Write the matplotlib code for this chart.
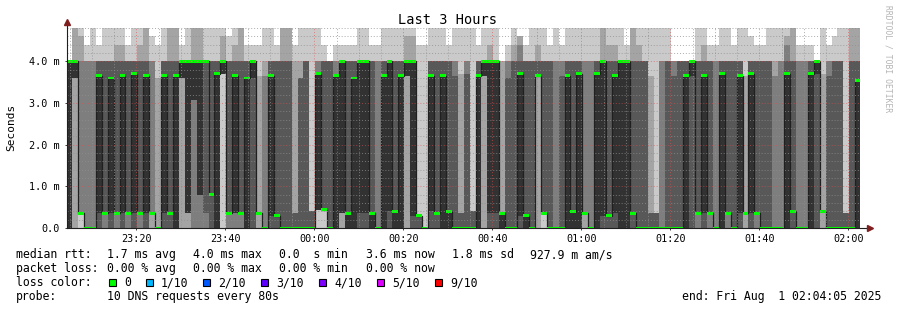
import matplotlib
matplotlib.use("Agg")
import matplotlib.pyplot as plt
from matplotlib.patches import Rectangle
import numpy as np

# time axis: minutes after 23:00, one rrd step = 80 s
FIRST_BIN_MIN = 4.23
STEP_MIN = 80 / 60
X_RANGE = (4.43, 182.62)
Y_MAX = 4.8

tick_minutes = [20, 40, 60, 80, 100, 120, 140, 160, 180]
tick_labels = ["23:20", "23:40", "00:00", "00:20", "00:40", "01:00", "01:20", "01:40", "02:00"]
y_ticks = [0, 1, 2, 3, 4]
y_tick_labels = ["0.0", "1.0 m", "2.0 m", "3.0 m", "4.0 m"]

# 10 DNS round trip times (ms) per 80 s step, sorted
pings = [
    [0, 0, 0, 0, 0, 4, 4, 4, 4, 4],
    [0, 0, 3.6, 3.6, 3.6, 4, 4, 4, 4.8, 4.8],
    [0, .35, .35, .35, .35, .35, .35, 4, 4.6, 4.8],
    [0, 0, 0, 0, 0, 0, 0, 4, 4, 4.4],
    [0, 0, 0, 0, 0, 0, 0, 4, 4, 4.8],
    [0, 0, 0, 0, .35, 3.65, 4, 4, 4, 4.4],
    [0, 0, 0, .35, .35, .35, 4, 4, 4, 4.8],
    [0, 0, 0, 0, .35, 3.6, 4, 4, 4, 4.8],
    [0, 0, 0, .35, .35, .35, 4, 4, 4.4, 4.8],
    [0, 0, 0, 0, .35, 3.65, 4, 4, 4.4, 4.8],
    [0, 0, 0, .35, .35, .35, 4, 4, 4, 4.4],
    [0, 0, 0, 0, .35, 3.7, 4, 4, 4, 4.8],
    [0, 0, 0, .35, .35, .35, 4, 4, 4.4, 4.8],
    [0, 0, 0, 0, .35, 3.65, 4, 4, 4.8, 4.8],
    [0, 0, .35, .35, .35, .35, .35, 4, 4, 4.6],
    [0, 0, 0, 0, 0, 0, 0, 0, 3.6, 4.4],
    [0, 0, 0, 0, .35, 3.65, 4, 4, 4, 4.8],
    [0, 0, 0, 0, .35, .35, 4, 4, 4.8, 4.8],
    [0, 0, 0, 0, 0, 3.65, 4, 4, 4.8, 4.8],
    [0, 0, 3.6, 3.6, 3.6, 4, 4, 4, 4, 4.4],
    [0, 0, .35, .35, .35, 4, 4, 4, 4, 4.8],
    [0, 0, 0, 3.06, 3.06, 4, 4, 4, 4.8, 4.8],
    [0, 0, 0, .8, .8, 4, 4, 4, 4.8, 4.8],
    [0, 0, 0, .35, 4, 4, 4, 4, 4, 4.8],
    [0, 0, 0, 0, .8, .8, 4, 4, 4, 4.8],
    [0, 0, 0, 0, 0, 3.7, 4, 4, 4, 4.8],
    [0, 3.7, 3.7, 3.7, 3.7, 4, 4, 4, 4.6, 4.8],
    [0, 0, 0, .35, .35, .35, 4, 4, 4, 4.6],
    [0, 0, 0, .35, .35, 3.65, 4, 4, 4.4, 4.8],
    [0, 0, 0, .35, .35, .35, 4, 4, 4.8, 4.8],
    [0, 0, 0, 0, 0, 3.6, 4, 4, 4, 4.4],
    [0, 0, 0, 0, 3.6, 4, 4, 4, 4, 4.4],
    [0, 0, .35, .35, .35, .35, .35, .35, 3.65, 4.4],
    [0, 0, 0, 0, 0, 0, 0, 3.65, 4, 4.8],
    [0, 0, 0, 0, .3, 3.65, 4, 4, 4, 4.8],
    [0, 0, 0, 0, .3, .3, 4, 4, 4, 4.4],
    [0, 0, 0, 0, 0, 0, 4, 4, 4.8, 4.8],
    [0, 0, 0, 0, 0, 0, 4, 4, 4.8, 4.8],
    [0, 0, 0, 0, 0, 0, .35, .35, 4, 4.4],
    [0, 0, 0, 0, 0, 0, 3.6, 3.6, 4, 4.8],
    [0, 0, 0, 0, 0, 0, 4, 4, 4, 4.8],
    [0, 0, 0, 0, 0, 0, .4, .4, .4, 4.8],
    [0, .44, .44, .44, .44, 3.7, 3.7, 4, 4, 4.8],
    [0, .44, .44, .44, .44, .44, 4, 4, 4, 4.4],
    [0, 0, 0, 0, 0, 0, 4, 4, 4, 4],
    [0, 0, 0, 0, 0, 3.65, 3.65, 4, 4, 4.4],
    [0, 0, .35, .35, .35, 4, 4, 4, 4, 4.4],
    [0, 0, 0, 0, 0, .35, 4, 4, 4, 4.4],
    [0, 0, 0, 0, 0, 3.6, 4, 4, 4, 4.4],
    [0, 0, 0, 0, .35, 4, 4, 4, 4, 4.8],
    [0, 0, 0, 0, .35, 4, 4, 4, 4, 4.8],
    [0, 0, 0, 0, 0, .35, 4, 4, 4, 4.4],
    [0, 0, 0, 0, 0, 0, 0, 4, 4, 4.4],
    [0, 0, 0, 0, 0, 3.65, 4, 4, 4, 4.8],
    [0, 0, 0, 0, .4, 4, 4, 4, 4, 4.8],
    [0, 0, 0, 0, 0, .4, 4, 4, 4, 4.8],
    [0, 0, 0, 0, 0, 3.65, 4, 4, 4, 4.8],
    [0, 0, 3.65, 3.65, 3.65, 4, 4, 4, 4.6, 4.8],
    [0, 0, 0, 0, .3, 4, 4, 4, 4.6, 4.8],
    [0, 0, 0, 0, .3, .3, .3, .3, .3, 4.4],
    [0, 0, 0, 0, 0, 0, 0, 0, 0, 4.4],
    [0, 0, 0, 0, .4, 3.65, 4, 4, 4, 4.8],
    [0, 0, 0, 0, .35, .35, 4, 4, 4, 4.8],
    [0, 0, 0, 0, 0, 3.65, 4, 4, 4, 4.8],
    [0, 0, 0, 0, 0, .4, 4, 4, 4, 4.4],
    [0, 0, 0, 0, 0, 0, 3.65, 4, 4, 4.8],
    [0, 0, 0, 0, 0, 0, .35, .35, 3.7, 4.8],
    [0, 0, 0, 0, 0, 0, 3.7, 4, 4, 4.8],
    [0, 0, 0, 0, 0, 0, .4, .4, .4, 4.8],
    [0, 0, 0, 0, 0, 3.65, 4, 4, 4, 4.4],
    [0, 0, 3.65, 3.65, 3.65, 4, 4, 4, 4, 4.8],
    [0, 0, 0, 0, .35, 4, 4, 4, 4.4, 4.8],
    [0, 0, 0, 0, .35, 4, 4, 4, 4, 4.8],
    [0, 0, 0, 0, 0, .35, .35, .35, 4, 4],
    [0, 0, 0, 0, 0, 0, 3.6, 4, 4, 4.4],
    [0, 0, 0, 0, 0, 0, 4, 4, 4.4, 4.8],
    [0, 0, 0, 0, .3, 3.7, 4, 4.4, 4.6, 4.6],
    [0, 0, 0, 0, 0, .3, 4, 4, 4, 4.4],
    [0, 0, 0, 0, 0, 0, 4, 4, 4, 4.8],
    [0, 0, 3.65, 3.65, 3.65, 3.65, 4, 4, 4.4, 4.8],
    [0, .35, .35, .35, .35, .35, 4, 4, 4, 4.8],
    [0, 0, 0, 0, 0, 0, 4, 4, 4, 4.4],
    [0, 0, 0, 0, 0, 0, 0, 4, 4, 4.8],
    [0, 0, 0, 0, 0, 0, 3.65, 4, 4, 4.4],
    [0, 0, 0, 0, 0, 3.65, 4, 4, 4, 4.8],
    [0, 0, 0, 0, 0, .4, 4, 4, 4, 4.8],
    [0, 0, 0, 0, 0, 3.7, 4, 4, 4, 4.8],
    [0, 0, .35, .35, .35, .35, .35, 4, 4, 4.8],
    [0, 0, 0, 0, 0, 0, 0, 4, 4, 4.8],
    [0, 0, 0, 0, 0, 3.7, 4, 4, 4, 4.8],
    [0, 0, 0, 0, .3, 4, 4, 4, 4.8, 4.8],
    [0, 0, 0, 0, .3, .3, 4, 4, 4.4, 4.8],
    [0, 0, 0, 0, .35, 3.65, 4, 4, 4.4, 4.8],
    [0, 0, 0, 0, 0, 4, 4, 4, 4, 4.8],
    [0, 0, 0, 0, 0, 4, 4, 4, 4, 4.4],
    [0, 0, 0, 0, .35, .35, 4, 4, 4.8, 4.8],
    [0, 0, 0, 0, 0, 0, 4, 4, 4.4, 4.8],
    [0, 0, 0, 0, 0, 0, 4, 4, 4, 4.8],
    [0, 0, 0, 0, 0, 0, .35, .35, 3.65, 4.8],
    [0, 0, 0, 0, 0, 0, .35, .35, .35, 4.8],
    [0, 0, 0, 0, 0, 0, 0, 4, 4, 4.8],
    [0, 0, 0, 0, 0, 0, 4, 4, 4, 4.8],
    [0, 0, 0, 0, 0, 0, 3.65, 4, 4, 4],
    [0, 0, 0, 0, 0, 0, 4, 4, 4, 4],
    [0, 0, 0, 0, 0, 3.65, 4, 4, 4, 4],
    [0, 0, 0, 0, 3.65, 4, 4, 4, 4, 4],
    [0, 0, 0, .35, .35, .35, 4, 4, 4, 4.8],
    [0, 0, 0, 0, .35, 3.65, 4, 4, 4.4, 4.8],
    [0, 0, 0, .35, .35, .35, 4, 4, 4, 4.4],
    [0, 0, 0, 0, 0, 0, 0, 4, 4, 4.4],
    [0, 0, 0, 0, 0, 3.7, 4, 4, 4, 4.8],
    [0, 0, 0, .35, .35, .35, 4, 4, 4, 4.8],
    [0, 0, 0, 0, 0, 0, 4, 4, 4, 4.4],
    [0, 0, 0, 0, .35, 3.65, 4, 4, 4, 4.8],
    [0, 0, .35, .35, .35, .35, .35, .35, 3.65, 4.8],
    [0, 0, 0, 0, .35, 3.7, 4, 4, 4, 4.6],
    [0, 0, 0, .35, .35, .35, 4, 4, 4, 4.4],
    [0, 0, 0, 0, 0, 0, 4, 4, 4, 4.4],
    [0, 0, 0, 0, 0, 0, 4, 4, 4, 4.8],
    [0, 0, 0, 0, 0, 0, 0, 3.65, 4, 4.8],
    [0, 0, 0, 0, 0, 0, 0, 4, 4, 4.8],
    [0, 0, 0, 0, 0, 3.7, 4, 4.4, 4.6, 4.8],
    [0, 0, 0, 0, .4, .4, 4, 4, 4.8, 4.8],
    [0, 0, 0, 0, 0, 0, 0, 4, 4, 4.4],
    [0, 0, 0, 0, 0, 0, 0, 4, 4, 4.4],
    [0, 0, 0, 0, 0, 3.7, 4, 4, 4, 4.4],
    [0, 0, 0, 0, 3.7, 4, 4, 4, 4, 4],
    [0, 0, .4, .4, .4, .4, .4, .4, 3.7, 4.8],
    [0, 0, 0, 0, 0, 0, 3.65, 4, 4, 4.4],
    [0, 0, 0, 0, 0, 0, 4, 4, 4, 4.6],
    [0, 0, 0, 0, 0, 0, 4, 4, 4, 4.8],
    [0, 0, 0, 0, 0, 0, .35, .35, .35, 4.8],
    [0, 0, 0, 0, 0, 0, 4, 4, 4.8, 4.8],
    [0, 0, 0, 0, 0, 3.55, 4, 4, 4.8, 4.8],
]

smoke_colors = ["#cacaca", "#a4a4a4", "#7e7e7e", "#585858", "#323232"]

legend_rows = [
    ("median rtt:", ["1.7 ms avg", "4.0 ms max", "0.0  s min", "3.6 ms now", "1.8 ms sd"], "927.9 m am/s"),
    ("packet loss:", ["0.00 % avg", "0.00 % max", "0.00 % min", "0.00 % now"], None),
]
loss_labels = ["0", "1/10", "2/10", "3/10", "4/10", "5/10", "9/10"]
loss_colors = ["#00ff00", "#00b8ff", "#0059ff", "#5e00ff", "#7e00ff", "#dd00ff", "#ff0000"]
probe_text = "10 DNS requests every 80s"
end_text = "end: Fri Aug  1 02:04:05 2025"

MONO = "DejaVu Sans Mono"
W, H = 897, 310

fig = plt.figure(figsize=(W / 100, H / 100), dpi=100)
fig.patch.set_facecolor("white")
ax = fig.add_axes([67 / W, 1 - 228 / H, 793 / W, 200 / H])
ax.set_facecolor("white")

p = np.sort(np.array(pings, dtype=float), axis=1)
edges = FIRST_BIN_MIN + STEP_MIN * np.arange(len(p) + 1)

# smoke: outer pair lightest, inner pair darkest
for i, col in enumerate(smoke_colors):
    ax.stairs(p[:, 9 - i], edges, baseline=p[:, i], fill=True, color=col, lw=0, zorder=1)

median = p[:, 5]
ax.stairs(median, edges, baseline=None, color="#202020", lw=0.9, zorder=2)
ax.bar(edges[:-1], 0.07, bottom=median - 0.035, width=STEP_MIN, align="edge",
       color="#00ff00", lw=0, zorder=3)

ax.set_xlim(*X_RANGE)
ax.set_ylim(0, Y_MAX)

# rrdtool style grid
grid_col = (0.56, 0.56, 0.56, 0.75)
mgrid_col = (0.87, 0.31, 0.31, 0.6)
dots = (0, (1, 2))
for y in np.arange(0.2, Y_MAX + 0.01, 0.2):
    is_major = abs(y - round(y)) < 1e-6
    ax.axhline(y, color=mgrid_col if is_major else grid_col, lw=0.7, ls=dots, zorder=4)
for m in range(5, 185, 5):
    is_major = m % 20 == 0
    ax.axvline(m, color=mgrid_col if is_major else grid_col, lw=0.7, ls=dots, zorder=4)

for s in ax.spines.values():
    s.set_visible(False)
axis_col = (0.12, 0.12, 0.12)
arrow_col = (0.5, 0.12, 0.12)
ax.plot([0, 0], [0, 1.03], transform=ax.transAxes, color=axis_col, lw=0.8, clip_on=False, zorder=5)
ax.plot([0, 1.013], [0, 0], transform=ax.transAxes, color=axis_col, lw=0.8, clip_on=False, zorder=5)
ax.plot(0, 1.028, marker="^", ms=4, color=arrow_col, transform=ax.transAxes, clip_on=False, zorder=6)
ax.plot(1.013, 0, marker=">", ms=4, color=arrow_col, transform=ax.transAxes, clip_on=False, zorder=6)

ax.set_xticks(tick_minutes, tick_labels)
ax.set_yticks(y_ticks, y_tick_labels)
ax.tick_params(axis="both", length=1.5, width=0.6, color=axis_col, labelsize=7.3)
ax.tick_params(axis="y", pad=3.5)
ax.tick_params(axis="x", pad=2.5)
for lab in ax.get_xticklabels() + ax.get_yticklabels():
    lab.set_family(MONO)

# text layer in pixel coordinates
tx = fig.add_axes([0, 0, 1, 1])
tx.set_xlim(0, W)
tx.set_ylim(H, 0)
tx.axis("off")
tx.patch.set_alpha(0)

tx.text(448, 24, "Last 3 Hours", family=MONO, fontsize=9.8, ha="center", va="baseline")
tx.text(11, 127, "Seconds", family=MONO, fontsize=8.0, rotation=90, ha="center", va="center")
tx.text(888, 5, "RRDTOOL / TOBI OETIKER", family=MONO, fontsize=5.8, rotation=270,
        ha="center", va="top", color="#b4b4b4")

fs = 8.3
item_x = [107.3, 193.3, 279.3, 365.7, 451.7]
base_y = [258, 272, 286, 300]
for row, (head, items, extra) in enumerate(legend_rows):
    tx.text(16, base_y[row], head, family=MONO, fontsize=fs, va="baseline")
    for x, s in zip(item_x, items):
        tx.text(x, base_y[row], s, family=MONO, fontsize=fs, va="baseline")
    if extra:
        tx.text(530, base_y[row], extra, family=MONO, fontsize=fs, va="baseline")

tx.text(16, base_y[2], "loss color:", family=MONO, fontsize=fs, va="baseline")
box_x = [108.7, 145.7, 203.3, 261.3, 319.3, 377.3, 435.3]
lab_x = [124, 160.7, 218.3, 276.3, 334.3, 392.3, 450.3]
for bx, lx, lab, col in zip(box_x, lab_x, loss_labels, loss_colors):
    tx.add_patch(Rectangle((bx, 279), 7, 7, facecolor=col, edgecolor="black", lw=0.8))
    tx.text(lx, base_y[2], lab, family=MONO, fontsize=fs, va="baseline")

tx.text(16, base_y[3], "probe:", family=MONO, fontsize=fs, va="baseline")
tx.text(107.3, base_y[3], probe_text, family=MONO, fontsize=fs, va="baseline")
tx.text(881, base_y[3], end_text, family=MONO, fontsize=fs, ha="right", va="baseline")

fig.savefig("out.png", dpi=100, facecolor="white")
